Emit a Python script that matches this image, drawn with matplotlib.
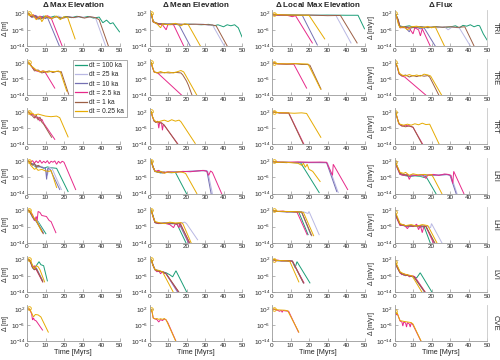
import numpy as np
import matplotlib
matplotlib.use("Agg")
import matplotlib.pyplot as plt
from matplotlib.lines import Line2D

plt.rcParams['font.family'] = ['Liberation Sans', 'DejaVu Sans']
plt.rcParams['mathtext.default'] = 'regular'

# ---------------- data: (time [Myrs], log10 Delta) breakpoints
SERIES_KEYS = ['100', '25', '10', '2.5', '1', '0.25']
SERIES_LABELS = ['dt = 100 ka', 'dt = 25 ka', 'dt = 10 ka', 'dt = 2.5 ka', 'dt = 1 ka', 'dt = 0.25 ka']
COLUMN_TITLES = [r'$\Delta$ Max Elevation', r'$\Delta$ Mean Elevation', r'$\Delta$ Local Max Elevation', r'$\Delta$ Flux']
ROW_LABELS = ['TRI', 'TRE', 'TRT', 'LRI', 'LHI', 'LVI', 'CVE']
X_TICKS = [0, 10, 20, 30, 40, 50]
Y_TICK_EXP = [2, -6, -14]

# ---- TRI
TRI_max = {
    '100': [(1,2),(2,0.5),(4,1),(6,-0.5),(9,0.8),(12,0),(15,0.8),(18,-0.3),(21,0.6),(24,0),(27,0.7),(30,0),(33,0.6),(36,-0.2),(39,0.3),(41,-2.5),(43,-1.2),(45,-3),(46.5,-2.5),(48,-4.5),(50,-7)],
    '25': [(1,1.5),(3,0),(5,1),(8,-0.5),(11,0.5),(14,0),(17,0.8),(20,-0.2),(23,0.6),(26,0),(29,0.5),(32,0),(35,0.4),(37,0),(42.5,-14)],
    '10': [(1,1.8),(2.5,0.3),(4.5,1.2),(6,-0.8),(8,0.6),(10,-0.5),(11,0.2),(17.5,-14)],
    '2.5': [(1,2),(2,0.5),(3.5,1.5),(5,-0.5),(7,0.8),(9,-0.2),(11,1),(13,0),(19,-14)],
    '1': [(1,2),(2.5,0.3),(5,0.8),(7,-0.7),(10,0.5),(13,-0.5),(16,0.5),(19,-0.3),(22,0.5),(25,0),(28,0.6),(31,-0.2),(34,0.5),(37,0),(39,-1),(44,-14)],
    '0.25': [(1,2.2),(1.5,1),(3,1.5),(5,-1),(7,0.5),(8,-2),(10,1),(13,-0.5),(16,0.8),(18,-1),(20,0.5),(22,0),(26,-10.5)],
}
TRI_mean = {
    '100': [(1,2),(2,-2),(4,-3),(8,-3.2),(12,-3),(16,-3.5),(20,-3.2),(24,-3.3),(28,-3.5),(32,-3.3),(35,-4),(37,-3.5),(40,-4.5),(42,-3.5),(44,-4),(46,-3.5),(48,-5),(50,-9.5)],
    '25': [(1,1.5),(2,-2),(5,-3),(9,-3.2),(13,-3),(17,-3.4),(21,-3.2),(25,-3.3),(29,-3.2),(32,-3.8),(34,-3.5),(40.5,-14)],
    '10': [(1,1.8),(2,-2.2),(5,-3.2),(8,-3),(11,-3.5),(14,-3.2),(16,-3.6),(22,-14)],
    '2.5': [(1,2),(2,-2),(4,-3),(7,-3.5),(9,-6),(10,-3.2),(13,-3.5),(18.5,-14)],
    '1': [(1,2),(2,-2),(5,-3),(10,-3.3),(15,-3.1),(20,-3.3),(25,-3.2),(30,-3.4),(34,-3.6),(36,-4),(42,-14)],
    '0.25': [(1,2.3),(1.5,0),(2,-2),(4,-3),(6,-5),(7,-3),(10,-3.5),(14,-2.8),(17,-4),(19,-3),(21,-3.5),(27.5,-14)],
}
TRI_local = {
    '100': [(1,1.5),(5,1.2),(10,1.4),(20,1.2),(30,1.3),(40,1.2),(46.5,1.2),(50,-5.5)],
    '25': [(1,1.3),(10,1.2),(20,1.3),(30,1.1),(34.5,1.2),(42.7,-12.5)],
    '10': [(1,1.3),(8,1.2),(16.4,1.1),(24.5,-13.5)],
    '2.5': [(1,1.4),(8,1.2),(11,0.5),(12.7,1),(21.8,-12.5)],
    '1': [(1,1.5),(10,1.2),(20,1.3),(30,1.0),(37,1.1),(46,-12.5)],
    '0.25': [(1,1.8),(5,1.4),(12,1.3),(20,1.2),(28.5,-10.5)],
}
TRI_flux = {
    '100': [(0.5,2),(1.5,0),(2.5,-4),(5,-4.5),(8,-4),(11,-5),(14,-4.5),(18,-5),(22,-4.5),(26,-4.8),(30,-4.6),(33,-4),(35,-5),(37,-3.8),(39,-4.2),(41,-3.5),(43,-4.5),(45,-3.8),(46,-4),(48,-8),(50,-11)],
    '25': [(0.5,1.5),(2,-2),(3,-4.5),(7,-5),(11,-4.7),(15,-5),(19,-4.6),(23,-5),(27,-4.5),(29,-6),(31,-4.7),(35,-5),(41,-14)],
    '10': [(0.5,1.8),(2,-1),(3,-4.8),(6,-5),(8,-7),(9,-5),(12,-4.8),(14,-5.5),(16,-5),(22,-14)],
    '2.5': [(0.5,2),(2,-2),(3,-5),(6,-4.8),(8,-5.2),(10,-8),(11,-5),(13,-6),(14,-9),(15,-5.5),(19.3,-14)],
    '1': [(0.5,2),(2,-1),(3,-4.5),(6,-4.6),(10,-4.8),(14,-4.5),(18,-4.8),(22,-4.5),(26,-4.7),(30,-4.5),(34,-4.8),(38,-4.5),(43,-14)],
    '0.25': [(0.5,2.2),(1,1),(2,-3),(3,-5),(5,-4.5),(7,-6),(9,-4.5),(12,-4.2),(15,-5),(18,-4.3),(20,-5),(22,-4.5),(27,-14)],
}

# ---- TRE
TRE_max = {
    '2.5': [(1,2),(2,1),(3,-0.5),(5,-2),(7,-2.5),(8.5,-2),(9.7,-2.5),(15,-10.5)],
    '1': [(1,2),(2,1),(3,-0.5),(4,-2),(6,-1.5),(8,-3),(10,-2.5),(12,-2),(14,-2.8),(16,-2.2),(18,-2.5),(18.5,-2.3),(22.5,-13.5)],
    '0.25': [(1,2.2),(2,0.5),(3,0),(5,-1.5),(7,-2.5),(9,-2),(11,-2.7),(13,-2.2),(15,-2.4),(17,-2),(18,-2.5),(21.5,-12)],
}
TRE_mean = {
    '2.5': [(1,2),(1.5,0),(2.5,-2.5),(4.4,-3),(17.4,-14)],
    '1': [(1,2),(1.5,0),(2.5,-2.5),(5,-3),(8,-2.8),(11,-3),(14,-2.7),(17,-3),(18,-4),(19,-5.5),(20,-7),(21,-9),(23,-14)],
    '0.25': [(1,2.3),(1.5,0.5),(2.5,-2.5),(4,-3),(6,-2.3),(8,-3),(10,-2.5),(13,-3),(15,-2.4),(17,-1.8),(18.5,-2.5),(25.6,-14)],
}
TRE_local = {
    '2.5': [(1,2),(3,1.5),(8,1.4),(11.8,1.3),(18.7,-10.5)],
    '1': [(1,2),(3,1.5),(8,1.3),(12,1.6),(16,1.2),(19,1.2),(20.5,0.8),(26.5,-11)],
    '0.25': [(1,2),(3,1.6),(8,1.5),(14,1.6),(19.5,1.4),(26.3,-11)],
}
TRE_flux = {
    '2.5': [(0.5,2),(1.5,0),(2.5,-3.5),(4,-4.5),(5.5,-5),(17,-14)],
    '1': [(0.5,2),(1.5,0),(2.5,-3.5),(4,-4.5),(6,-4),(8,-5),(10,-4.3),(12,-4.8),(14,-4.2),(16,-4.6),(18,-4.3),(19,-5),(24,-14)],
    '0.25': [(0.5,2.3),(1.5,0.5),(2.5,-3),(4,-4),(6,-4.5),(8,-3.8),(10,-4.5),(12,-4),(14,-4.6),(16,-3.6),(18,-4),(19.5,-4.5),(25.5,-14)],
}

# ---- TRT
TRT_max = {
    '2.5': [(1,2),(2,0.5),(3,1),(4,0),(5,-1),(6,-0.5),(7,-2.5),(8,-1.5),(9,-3.5),(15,-11.5)],
    '1': [(1,2),(2,1),(3,0),(4,-1),(5,0.5),(6,-2),(7,-0.5),(8,-3),(9,-4),(13.3,-10.5)],
    '0.25': [(1,2),(2,1),(3,1.5),(4,0.5),(6,1),(8,0.5),(10,0),(13,-0.3),(16,0),(17.7,-0.8),(22.2,-10.3)],
}
TRT_mean = {
    '2.5': [(1,2),(1.5,0),(2.5,-2.5),(3.5,-3),(4.5,-2.5),(5,-6),(5.5,-3),(6.5,-3.5),(7,-7),(7.5,-4),(15.5,-14)],
    '1': [(1,2),(1.5,0),(2.5,-2.5),(3.5,-3.2),(4.5,-2.8),(5.5,-3.5),(6.5,-3.3),(8,-4.5),(15.3,-14)],
    '0.25': [(1,2.3),(1.5,0),(2.5,-2),(4,-3),(6,-2.5),(8,-2),(10,-2.7),(12,-1.8),(14,-2.5),(16,-2),(17,-2.8),(24.7,-13.5)],
}
TRT_local = {
    '2.5': [(1,2),(4,1.6),(9.1,1.5),(17.3,-14)],
    '1': [(1,2),(4,1.5),(9,1.5),(17,-14)],
    '0.25': [(1,2),(4,1.7),(8,1.6),(12,1.4),(16,1.6),(18.7,1.3),(26.4,-10.5)],
}
TRT_flux = {
    '2.5': [(0.5,2),(1.5,-1),(2.5,-4),(4,-5),(6,-4.5),(8,-5),(10,-5.5),(15.3,-14)],
    '1': [(0.5,2),(1.5,-1),(2.5,-4),(4,-4.8),(6,-5.3),(8,-4.8),(10,-5.5),(15,-14)],
    '0.25': [(0.5,2.2),(1,1),(2,-3),(3,-4),(5,-4.5),(7,-4),(9,-4.5),(11,-3.8),(13,-4.3),(15,-3.5),(17,-4.2),(19,-4),(24.2,-14)],
}

# ---- LRI
LRI_max = {
    '100': [(1,2),(2,1),(3,0.5),(5,-1),(7,-0.5),(9,-1.5),(11,-0.8),(13,-1.2),(16,-1.5),(22.2,-13)],
    '25': [(1,1.8),(2,0.5),(4,0),(6,-1),(8,-0.5),(10,-2),(11,-5),(12,-1),(13.5,-1.5),(18.6,-12)],
    '10': [(1,1.8),(2,1),(4,0.5),(6,-0.5),(8,-1),(10,-1.5),(10.6,-7),(11.2,-1.5),(12.5,-2),(17.7,-12)],
    '2.5': [(1,2),(2,1.5),(3,2.3),(4,1),(5,2.2),(6,1.2),(7,2.5),(8,1),(9,2),(10,1.2),(11,2.3),(12,0.8),(13,2),(14,1.5),(15,2.2),(16,0.5),(17,2),(18,1),(19,2),(20,1.5),(26.3,-12)],
    '1': [(1,2),(2,1),(3,0),(4,1),(5,-1),(6,0),(7,-0.5)],
    '0.25': [(1,2.2),(1.5,1),(2,0),(3,-1),(4,-2),(5,-1.5),(6,-2.5),(8,-2),(10,-2.8),(12,-3),(13,-2.5),(16,-11)],
}
LRI_mean = {
    '100': [(1,2),(2,-1),(3,-3),(6,-3.8),(9,-3.5),(12,-3.7),(14,-3.5),(20,-14)],
    '25': [(1,1.5),(2,-1.5),(3,-3.2),(7,-3.6),(12,-3.4),(17,-3.2),(22,-3),(27,-2.8),(30,-2.5),(31.5,-3),(34,-14)],
    '10': [(1,1.8),(2,-1),(3,-3),(8,-3.5),(13,-3.3),(18,-3.1),(23,-2.9),(28,-2.7),(31,-2.8),(33.3,-14)],
    '2.5': [(1,2),(2,-1),(3,-3),(5,-2.5),(7,-3.8),(10,-3.2),(14,-3.5),(18,-3),(22,-3.2),(26,-2.8),(29,-2.5),(31,-3),(32,-5),(33,-2.8),(34,-3.5),(39,-14)],
    '1': [(1,2),(2,-1),(3,-3),(5,-3.5),(8,-3.3)],
    '0.25': [(1,2.3),(1.5,0),(3,-3),(5,-3.5),(6,-3),(8,-4),(10,-3.3),(13,-3.6),(16,-3.2),(18,-3.5),(19.5,-4),(25.6,-14)],
}
LRI_local = {
    '100': [(1,1.8),(3,1.4),(8,1.5),(12,1.3),(15.5,1.2),(25.5,-13.5)],
    '25': [(1,1.8),(3,1.5),(10,1.4),(20,1.5),(28,1.3),(30,1.2),(35.8,-13.5)],
    '10': [(1,1.8),(3,1.5),(10,1.4),(20,1.3),(29.5,1.3),(35,-13)],
    '2.5': [(1,1.8),(3,1.6),(8,1.5),(14,1.7),(20,1.5),(26,1.6),(29.5,1.5),(32.7,-5),(33.1,0.5),(40.9,-12)],
    '1': [(1,1.7),(3,1.5),(8,1.3)],
    '0.25': [(1,2),(3,1.4),(6,1.6),(10,1.3),(14,1.0),(16,0),(17,1),(18,-1),(19,0.5),(20,-2),(22,-3),(26,-8)],
}
LRI_flux = {
    '100': [(0.5,1.5),(1.5,-1),(3,-4.5),(5,-5),(8,-5.5),(11,-5.2),(14,-5.5),(16,-6),(17,-5.5),(22.4,-14)],
    '25': [(0.5,1.5),(1.5,-1),(3,-4.5),(6,-5),(10,-4.8),(14,-5.2),(18,-5),(22,-4.8),(26,-5),(29,-4.6),(30.5,-5),(33.8,-14)],
    '10': [(0.5,1.8),(1.5,-0.5),(3,-4.2),(6,-5),(9,-5.3),(12,-5),(16,-4.7),(20,-5),(24,-4.8),(28,-4.5),(30,-5),(33.3,-14)],
    '2.5': [(0.5,1),(1.5,-1.5),(3,-4.5),(5,-5),(7,-4.5),(8,-7),(9,-4.8),(12,-5),(15,-4.6),(17,-6.5),(18,-4.8),(21,-4.5),(24,-5),(27,-4.3),(29,-4.5),(30.5,-5),(31.5,-9),(32,-3),(37.5,-14)],
    '1': [(0.5,1.5),(1.5,-1),(3,-4),(5,-4.5),(7,-5)],
    '0.25': [(0.5,1.5),(1.5,-0.5),(3,-3.5),(5,-4),(6,-3.5),(8,-5),(10,-4.2),(13,-4.8),(16,-4.5),(19,-5),(20,-4.5),(21,-6),(25.6,-14)],
}

# ---- LHI
LHI_max = {
    '100': [(1,2),(2,1),(3,-1),(4,-2),(5,-2.5),(6,-3.5),(10.2,-9.5)],
    '25': [(1,1.8),(2,0.5),(3,-1),(4,-3),(5,-2),(6,-4),(9,-9)],
    '10': [(1,1.8),(2,0.5),(3,-1.5),(4,-2.5),(5,-3.5),(8.6,-9)],
    '2.5': [(1,2),(2,1),(3,0),(4,-3),(5,-1),(5.5,-3),(6,1.5),(7,1),(8,-0.5),(10.5,-1),(12,-3),(13,-3.5),(15.6,-9)],
    '1': [(1,2),(2,0.5),(3,-1),(4,-2.5),(5,-3),(8.8,-9.5)],
    '0.25': [(1,2.2),(2,1.5),(3,-0.5),(4,-2),(5,-3),(8,-8.5)],
}
LHI_mean = {
    '100': [(1,2),(2,-1),(3,-4),(5,-4.5),(8,-4.2),(11,-4.6),(14,-4.5),(15,-5),(19.7,-14)],
    '25': [(1,1.8),(2,-1),(3,-3.8),(6,-4.3),(10,-4.1),(14,-4.4),(17,-4.2),(19,-3.8),(20,-4.5),(26,-12.5)],
    '10': [(1,1.8),(2,-1),(3,-4),(6,-4.5),(10,-4.3),(14,-4.6),(16,-4.5),(21,-14)],
    '2.5': [(1,2),(2,-1.5),(3,-4),(5,-4.5),(8,-4.3),(11,-5),(13,-6.5),(14,-4.5),(15,-5),(16,-6.5),(16.5,-4.3),(17,-5),(21.4,-14)],
    '1': [(1,2),(2,-1),(3,-4),(6,-4.4),(10,-4.2),(14,-4.5),(16.5,-4.6),(21.8,-14)],
    '0.25': [(1,2.3),(1.5,0),(3,-3.5),(5,-4),(8,-4.5),(11,-3.8),(14,-4.2),(17,-4),(18,-4.5),(22.5,-14)],
}
LHI_local = {
    '100': [(1,1.8),(3,1.5),(8,1.4),(12,1.3),(14.5,1.1),(19.5,-10)],
    '25': [(1,1.8),(3,1.5),(8,1.4),(13,1.2),(17,1.3),(19.5,0.5),(20,1.5),(25.5,-10)],
    '10': [(1,1.8),(3,1.5),(8,1.3),(13,1.3),(16,1.2),(21,-10)],
    '2.5': [(1,2),(3,1.5),(6,1.7),(8,1.3),(10,1.5),(13.5,1.2),(19,-10)],
    '1': [(1,1.8),(3,1.5),(8,1.4),(13,1.3),(16,1.2),(21.5,-10.5)],
    '0.25': [(1,2),(3,1.6),(8,1.5),(12,1.4),(16,1.2),(17,1.0),(22.5,-10.5)],
}
LHI_flux = {
    '100': [(0.5,0),(1.5,-2),(3,-5),(5,-5.5),(8,-6),(11,-5.8),(14,-6.2),(16,-6),(19.3,-14)],
    '25': [(0.5,0.5),(1.5,-2),(3,-5),(6,-5.5),(10,-5.8),(14,-5.6),(18,-6),(19.5,-6.5),(20,-4.5),(25.6,-14)],
    '10': [(0.5,0.5),(1.5,-2),(3,-5),(6,-5.8),(10,-5.5),(14,-6),(17,-5.8),(21.5,-14)],
    '2.5': [(0.5,0.5),(1.5,-2.5),(3,-5.5),(5,-5),(7,-7),(8,-5.5),(10,-6),(12,-4.8),(13,-7.5),(14,-5.5),(15,-9),(16,-5.5),(17,-6),(21,-14)],
    '1': [(0.5,0.5),(1.5,-2),(3,-5),(6,-5.5),(10,-5.7),(14,-5.5),(17,-6),(21.8,-14)],
    '0.25': [(0.5,1),(1.5,-1),(3,-4.5),(6,-5.5),(9,-5),(12,-5.8),(15,-5),(18,-5.5),(22.9,-14)],
}

# ---- LVI
LVI_max = {
    '100': [(1,2),(2,1),(3,-1),(4,-2),(5,-1),(6.5,1),(7.5,-0.5),(9,-1),(11,-8.5)],
    '25': [(1,1.8),(2,0.5),(3,-1.5),(4,-3),(5,-2.5),(8.5,-8.5)],
    '10': [(1,1.8),(2,0.5),(3,-2),(4,-3),(5,-2),(8.5,-8.5)],
    '2.5': [(1,2),(2,1),(3,-2),(4,-1),(5,-3),(8.5,-9)],
    '1': [(1,2),(2,0.5),(3,-2),(4,-3),(5,-2.5),(8.5,-9)],
    '0.25': [(1,2.2),(2,1.5),(3,-1),(4,-2.5),(5,-1),(6,-1.5),(7,-3),(9.5,-9)],
}
LVI_mean = {
    '100': [(1,2),(2,-1),(3,-3),(5,-3.5),(7,-4),(9,-4.5),(11,-5.5),(12.5,-6.5),(14.3,-3.5),(20.1,-14)],
    '25': [(1,1.8),(2,-1),(3,-3),(5,-3.5),(7,-4.2),(9,-5),(15,-14)],
    '10': [(1,1.8),(2,-1),(3,-3),(5,-3.6),(7,-4.1),(9,-5),(15.3,-14)],
    '2.5': [(1,2),(2,-1),(3,-3),(4,-4),(5,-3.5),(6,-5),(7,-3.8),(8,-4.5),(9,-5),(15.7,-14)],
    '1': [(1,2),(2,-1),(3,-3),(5,-3.8),(7,-4),(9,-5),(15.9,-14)],
    '0.25': [(1,2.3),(1.5,0),(3,-3),(5,-3.3),(7,-4),(12.8,-14)],
}
LVI_local = {
    '100': [(1,1.8),(3,1.5),(8,1.4),(11,1.2),(12.5,-2),(13.5,1),(20.5,-9.5)],
    '25': [(1,1.8),(3,1.5),(8,1.3),(11,1.2),(17,-9.5)],
    '10': [(1,1.8),(3,1.5),(8,1.4),(11,1.3),(17,-9.5)],
    '2.5': [(1,2),(2,1.3),(3,1.8),(5,1.4),(8,1.5),(11,1.2),(17.3,-9.5)],
    '1': [(1,2),(3,1.5),(8,1.4),(11,1.3),(17,-9.5)],
    '0.25': [(1,2),(3,1.6),(8,1.4),(9.6,1.2),(14.5,-9)],
}
LVI_flux = {
    '100': [(0.5,0.5),(1.5,-1.5),(3,-4.5),(5,-5.5),(8,-6),(10,-6.5),(12,-7),(13.9,-4.5),(20.2,-14)],
    '25': [(0.5,0.5),(1.5,-1.5),(3,-4.5),(5,-5.5),(8,-5.8),(10.5,-6.5),(16.3,-14)],
    '10': [(0.5,0.5),(1.5,-1.5),(3,-4.5),(5,-5.6),(8,-5.9),(10.5,-6.5),(16.2,-14)],
    '2.5': [(0.5,0.5),(1.5,-2),(3,-4.5),(4,-5.5),(5,-4.8),(6,-6),(7,-5.3),(8,-6.5),(10,-6),(11,-6.5),(16.6,-14)],
    '1': [(0.5,0.5),(1.5,-2),(3,-4.5),(5,-5.5),(8,-6),(10.5,-6.5),(16.4,-14)],
    '0.25': [(0.5,1),(1.5,-1),(3,-4),(5,-5),(7,-5.5),(9.5,-6),(14.8,-14)],
}

# ---- CVE
CVE_max = {
    '2.5': [(1,2),(1.5,1.5),(2.5,-0.5),(3,-3.5),(3.5,-2.5),(4,-3.5),(5,-4),(8.4,-8.5)],
    '0.25': [(1,2.2),(1.5,1.8),(2.5,0),(3.5,-2),(4.5,-0.8),(6,-1),(7.5,-2),(11.5,-9.5)],
}
CVE_mean = {
    '2.5': [(1,1.5),(1.5,0),(2,-2.5),(3,-3),(4,-3.3),(5,-4.5),(6,-3.3),(7,-3.8),(8,-3),(9,-3.5),(10,-5),(14.3,-14)],
    '0.25': [(1,1.8),(1.5,0),(2,-2.5),(3,-3),(4,-2.8),(5,-3.2),(6,-2.9),(7,-3.2),(8,-2.8),(9,-3.5),(10,-5.5),(14.2,-14)],
}
CVE_local = {
    '2.5': [(1,1.8),(2,1.5),(3,1.3),(4,0.8),(5,1.2),(5.5,0.3),(6,1.2),(7,1.0),(9,0.8),(14.3,-9.5)],
    '0.25': [(1,2),(2,1.7),(3,1.5),(5,1.4),(7,1.3),(8.5,1.0),(14.5,-9.5)],
}
CVE_flux = {
    '2.5': [(0.5,0.5),(1,-1),(1.5,-0.5),(2,-1.5),(3,-4),(4,-4.5),(4.5,-6.5),(5,-4.5),(6,-5),(6.5,-7),(7,-4.8),(8,-5.5),(8.5,-7),(9,-5),(10,-6),(14.3,-14)],
    '0.25': [(0.5,1),(1,-0.5),(1.5,0),(2,-1.5),(3,-3.8),(5,-4.2),(7,-4.5),(9,-4.8),(10,-5.5),(14.4,-14)],
}

PANELS = [
    [TRI_max, TRI_mean, TRI_local, TRI_flux],
    [TRE_max, TRE_mean, TRE_local, TRE_flux],
    [TRT_max, TRT_mean, TRT_local, TRT_flux],
    [LRI_max, LRI_mean, LRI_local, LRI_flux],
    [LHI_max, LHI_mean, LHI_local, LHI_flux],
    [LVI_max, LVI_mean, LVI_local, LVI_flux],
    [CVE_max, CVE_mean, CVE_local, CVE_flux],
]

# ---------------- styling
COLORS = {'100': '#1b9e77', '25': '#b9b8e3', '10': '#7570b3',
          '2.5': '#e7298a', '1': '#9c5f45', '0.25': '#e6ab02'}
SPINE = '#9a9a9a'
TXT = '#262626'

W, H = 500, 360
fig = plt.figure(figsize=(W / 100, H / 100), dpi=100)

lefts_px = [27, 149.5, 272, 394.5]
width_px = 92.5
height_px = 36
top0_px = 10
pitch_px = 49.2

for r, row in enumerate(PANELS):
    for c, panel in enumerate(row):
        top = top0_px + pitch_px * r
        ax = fig.add_axes([lefts_px[c] / W, 1 - (top + height_px) / H, width_px / W, height_px / H])
        for key in SERIES_KEYS:
            if key not in panel:
                continue
            pts = np.array(panel[key], dtype=float)
            ax.plot(pts[:, 0], 10.0 ** pts[:, 1], color=COLORS[key], lw=0.7,
                    solid_joinstyle='miter')
            if key == '0.25':
                ax.plot(pts[:1, 0], 10.0 ** pts[:1, 1], ls='none', marker='o', ms=2.6,
                        mfc='none', mec=COLORS[key], mew=0.6)
        ax.set_yscale('log')
        ax.set_xlim(0, 50)
        ax.set_ylim(1e-14, 10 ** 3.8)
        ax.set_xticks(X_TICKS)
        ax.set_yticks([10.0 ** e for e in Y_TICK_EXP])
        ax.set_yticklabels([r'$10^{%d}$' % e for e in Y_TICK_EXP])
        ax.yaxis.set_minor_locator(matplotlib.ticker.NullLocator())
        ax.tick_params(axis='both', which='major', labelsize=4.6, length=2, width=0.5,
                       direction='in', color=SPINE, labelcolor=TXT, pad=1.2)
        for s in ['top', 'right']:
            ax.spines[s].set_visible(False)
        for s in ['left', 'bottom']:
            ax.spines[s].set_color(SPINE)
            ax.spines[s].set_linewidth(0.6)
        if c == 3:
            ax.spines['right'].set_visible(True)
            ax.spines['right'].set_color('#c8c8c8')
            ax.spines['right'].set_linewidth(0.6)
            ax.text(1.09, 0.5, ROW_LABELS[r], transform=ax.transAxes, rotation=-90,
                    ha='center', va='center', fontsize=5.5, color=TXT)
            ax.set_ylabel(r'$\Delta$ [m/yr]', fontsize=4.9, color=TXT)
            ax.yaxis.set_label_coords(-0.185, 0.5)
        if c == 0:
            ax.set_ylabel(r'$\Delta$ [m]', fontsize=4.9, color=TXT)
            ax.yaxis.set_label_coords(-0.17, 0.5)
        if r == 0:
            ax.set_title(COLUMN_TITLES[c], fontsize=5.8, fontweight='bold', color=TXT, pad=2)
        if r == len(PANELS) - 1:
            ax.set_xlabel('Time [Myrs]', fontsize=5.2, color=TXT, labelpad=1)

handles = [Line2D([0], [0], color=COLORS[k], lw=0.9) for k in SERIES_KEYS]
leg = fig.legend(handles, SERIES_LABELS, loc='upper left',
                 bbox_to_anchor=(73 / W, 1 - 60 / H), fontsize=4.8, frameon=True,
                 fancybox=False, framealpha=1, edgecolor='#8a8a8a',
                 handlelength=1.7, handletextpad=0.4, labelspacing=0.32,
                 borderpad=0.35, borderaxespad=0)
leg.get_frame().set_linewidth(0.5)
leg.set_zorder(10)
for t in leg.get_texts():
    t.set_color(TXT)

fig.savefig('out.png', dpi=100)
